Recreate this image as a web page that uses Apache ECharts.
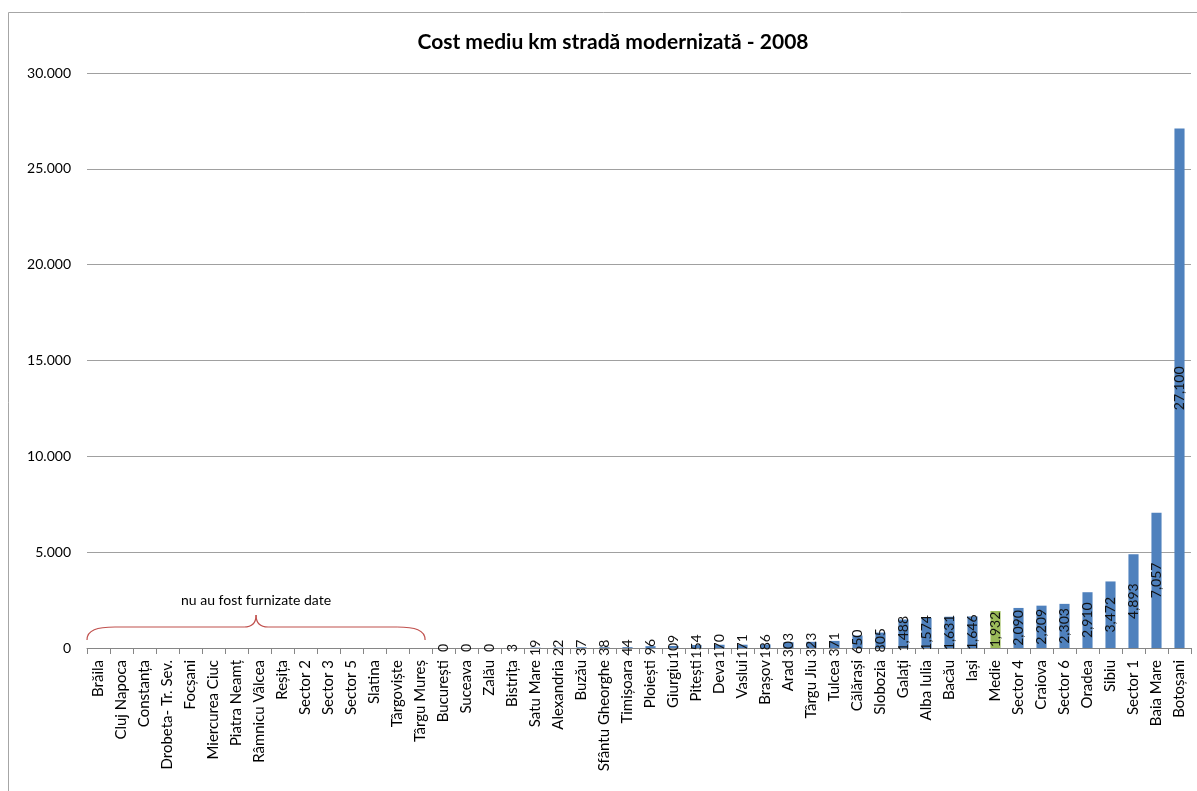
<!DOCTYPE html>
<html>
<head>
<meta charset="utf-8">
<script src="https://cdn.jsdelivr.net/npm/echarts@6/dist/echarts.min.js"></script>
<style>
  html, body { margin: 0; padding: 0; background: #fff; }
  #chart { width: 1197px; height: 791px; }
</style>
</head>
<body>
<div id="chart"></div>
<script>
// Cities without reported data (drawn with empty bars)
const noDataCities = ['Brăila', 'Cluj Napoca', 'Constanța', 'Drobeta- Tr. Sev.', 'Focșani',
  'Miercurea Ciuc', 'Piatra Neamț', 'Râmnicu Vâlcea', 'Reșița', 'Sector 2', 'Sector 3',
  'Sector 5', 'Slatina', 'Târgoviște', 'Târgu Mureș'];

// Cities with reported average cost per km
const dataCities = ['București', 'Suceava', 'Zalău', 'Bistrița', 'Satu Mare', 'Alexandria',
  'Buzău', 'Sfântu Gheorghe', 'Timișoara', 'Ploiești', 'Giurgiu', 'Pitești', 'Deva', 'Vaslui',
  'Brașov', 'Arad', 'Târgu Jiu', 'Tulcea', 'Călărași', 'Slobozia', 'Galați', 'Alba Iulia',
  'Bacău', 'Iași', 'Medie', 'Sector 4', 'Craiova', 'Sector 6', 'Oradea', 'Sibiu', 'Sector 1',
  'Baia Mare', 'Botoșani'];

const dataValues = [0, 0, 0, 3, 19, 22, 37, 38, 44, 96, 109, 154, 170, 171, 186, 303, 323,
  371, 650, 805, 1488, 1574, 1631, 1646, 1932, 2090, 2209, 2303, 2910, 3472, 4893, 7057, 27100];

const yTicks = [0, 5000, 10000, 15000, 20000, 25000, 30000];
const averageLabel = 'Medie';
const noDataNote = 'nu au fost furnizate date';
const chartTitle = 'Cost mediu km stradă modernizată - 2008';

const categories = noDataCities.concat(dataCities);
const seriesData = noDataCities.map(() => null).concat(
  dataValues.map((v, i) => dataCities[i] === averageLabel
    ? { value: v, itemStyle: { color: '#9BBB59' } }
    : v));

const FONT = 'Lato, "Open Sans", sans-serif';
const withComma = v => String(v).replace(/\B(?=(\d{3})+(?!\d))/g, ',');
const withDot = v => String(v).replace(/\B(?=(\d{3})+(?!\d))/g, '.');

const chart = echarts.init(document.getElementById('chart'));
chart.setOption({
  animation: false,
  backgroundColor: '#ffffff',
  title: {
    text: chartTitle,
    left: 608,
    top: 27,
    textAlign: 'center',
    textStyle: { fontFamily: FONT, fontSize: 21, fontWeight: 'bold', color: '#000' }
  },
  grid: { left: 87, right: 6, top: 73, bottom: 143, containLabel: false },
  xAxis: {
    type: 'category',
    data: categories,
    axisLine: { lineStyle: { color: '#868686', width: 1 } },
    axisTick: { show: true, alignWithLabel: false, length: 6, lineStyle: { color: '#868686' } },
    axisLabel: {
      interval: 0, rotate: 90, margin: 12,
      fontFamily: FONT, fontSize: 15, color: '#000'
    }
  },
  yAxis: {
    type: 'value',
    min: yTicks[0],
    max: yTicks[yTicks.length - 1],
    interval: yTicks[1] - yTicks[0],
    axisLine: { show: false },
    axisTick: { show: false },
    splitLine: { lineStyle: { color: '#a0a0a0', width: 1 } },
    axisLabel: {
      margin: 16, fontFamily: FONT, fontSize: 14, color: '#000',
      formatter: v => withDot(v)
    }
  },
  series: [{
    type: 'bar',
    data: seriesData,
    barWidth: '44%',
    itemStyle: { color: '#4F81BD' },
    label: {
      show: true,
      position: 'inside',
      rotate: 90,
      fontFamily: FONT,
      fontSize: 14,
      color: '#111',
      formatter: p => (p.value == null ? '' : withComma(p.value))
    }
  }]
});

// Brace and note over the categories without data
function drawNote() {
  const first = chart.convertToPixel({ xAxisIndex: 0 }, 0);
  const second = chart.convertToPixel({ xAxisIndex: 0 }, 1);
  const last = chart.convertToPixel({ xAxisIndex: 0 }, noDataCities.length - 1);
  const band = second - first;
  const L = first - band / 2;
  const R = last + band * 0.2;
  const M = (L + R) / 2;
  const yEnd = chart.convertToPixel({ yAxisIndex: 0 }, 0) - 8;
  const yMid = yEnd - 13;
  const yPeak = yEnd - 25;
  const braceStyle = { fill: null, stroke: '#C0504D', lineWidth: 1.2 };
  const curve = (x1, y1, c1x, c1y, c2x, c2y, x2, y2) => ({
    type: 'bezierCurve', silent: true,
    shape: { x1: x1, y1: y1, cpx1: c1x, cpy1: c1y, cpx2: c2x, cpy2: c2y, x2: x2, y2: y2 },
    style: braceStyle
  });
  const seg = (x1, y1, x2, y2) => ({
    type: 'line', silent: true,
    shape: { x1: x1, y1: y1, x2: x2, y2: y2 },
    style: braceStyle
  });
  chart.setOption({
    graphic: [
      {
        type: 'rect', silent: true,
        shape: { x: 8.5, y: 12.5, width: 1300, height: 900 },
        style: { fill: null, stroke: '#a6a6a6', lineWidth: 1 }
      },
      curve(L, yEnd, L, yMid + 3, L + 10, yMid, L + 28, yMid),
      seg(L + 28, yMid, M - 12, yMid),
      curve(M - 12, yMid, M - 4, yMid, M, yMid - 4, M, yPeak),
      curve(M, yPeak, M, yMid - 4, M + 4, yMid, M + 12, yMid),
      seg(M + 12, yMid, R - 28, yMid),
      curve(R - 28, yMid, R - 10, yMid, R, yMid + 3, R, yEnd),
      {
        type: 'text', silent: true,
        x: M, y: yPeak - 8,
        style: {
          text: noDataNote, fontFamily: FONT, fontSize: 14, fill: '#000',
          textAlign: 'center', textVerticalAlign: 'bottom'
        }
      }
    ]
  });
}
drawNote();
</script>
</body>
</html>
